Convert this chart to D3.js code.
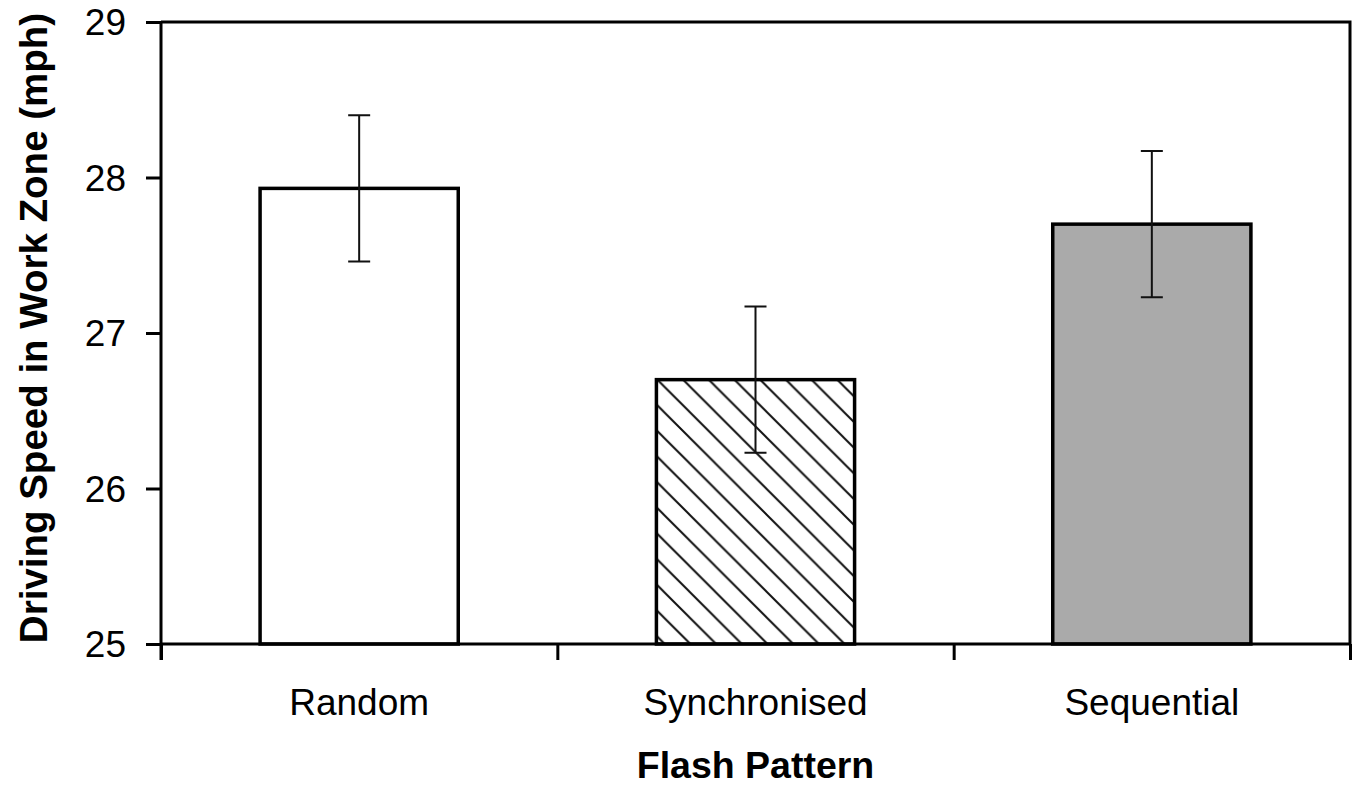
<!DOCTYPE html>
<html>
<head>
<meta charset="utf-8">
<script src="https://cdn.jsdelivr.net/npm/d3@7"></script>
<style>
  body { margin: 0; background: #fff; }
  svg { display: block; font-family: Arial, "Liberation Sans", sans-serif; }
</style>
</head>
<body>
<svg id="chart" width="1360" height="798"></svg>
<script>
// Data
const categories = ['Random', 'Synchronised', 'Sequential'];
const means = [27.93, 26.70, 27.70];
const errors = [0.47, 0.47, 0.47];
const yTicks = [25, 26, 27, 28, 29];

const plotLeft = 161, plotRight = 1350, plotTop = 22, plotBottom = 644;

const svg = d3.select('#chart');

// scales
let x = d3.scaleBand().domain(categories).range([plotLeft, plotRight]).paddingInner(0.5).paddingOuter(0.25);
let xEdge = d3.scaleLinear().domain([0, categories.length]).range([plotLeft, plotRight]);
let y = d3.scaleLinear().domain([25, 29]).range([plotBottom, plotTop]);

// hatch pattern for the middle bar
const s = 25.7;
let defs = svg.append('defs');
let pat = defs.append('pattern')
    .attr('id', 'hatch')
    .attr('patternUnits', 'userSpaceOnUse')
    .attr('x', 20.7)
    .attr('y', 0)
    .attr('width', s)
    .attr('height', s);
pat.append('rect').attr('width', s).attr('height', s).attr('fill', '#fff');
pat.append('path')
    .attr('d', `M0,0 L${s},${s} M${-s/2},${s/2} L${s/2},${s*1.5} M${s/2},${-s/2} L${s*1.5},${s/2}`)
    .attr('stroke', '#111')
    .attr('stroke-width', 2);

const fills = ['#fff', 'url(#hatch)', '#aaaaaa'];

// frame (top + right)
svg.append('path')
    .attr('d', `M${plotLeft},${plotTop} H${plotRight} V${plotBottom}`)
    .attr('fill', 'none')
    .attr('stroke', '#000')
    .attr('stroke-width', 3);

// bars
svg.selectAll('rect.bar')
    .data(categories)
    .join('rect')
    .attr('class', 'bar')
    .attr('x', d => x(d))
    .attr('width', x.bandwidth())
    .attr('y', (d, i) => y(means[i]))
    .attr('height', (d, i) => y(25) - y(means[i]))
    .attr('fill', (d, i) => fills[i])
    .attr('stroke', '#000')
    .attr('stroke-width', 3.5);

// error bars
const cap = 11;
categories.forEach((c, i) => {
    let cx = x(c) + x.bandwidth() / 2;
    let y1 = y(means[i] + errors[i]);
    let y2 = y(means[i] - errors[i]);
    svg.append('path')
        .attr('d', `M${cx},${y1} V${y2} M${cx - cap},${y1} H${cx + cap} M${cx - cap},${y2} H${cx + cap}`)
        .attr('fill', 'none')
        .attr('stroke', '#111')
        .attr('stroke-width', 2);
});

// y axis
let yAxis = svg.append('g')
    .attr('transform', `translate(${plotLeft},0)`)
    .call(d3.axisLeft(y).tickValues(yTicks).tickSize(15).tickPadding(20).tickFormat(d3.format('d')));
yAxis.select('.domain').attr('stroke-width', 3).attr('d', `M0,${plotTop} V${plotBottom + 16}`);
yAxis.selectAll('.tick line').attr('stroke-width', 3);
yAxis.selectAll('.tick text').attr('font-size', 37).attr('fill', '#000').attr('font-family', 'Arial, "Liberation Sans", sans-serif').attr('dy', '0.35em');

// x axis: boundary ticks
let xAxis = svg.append('g')
    .attr('transform', `translate(0,${plotBottom})`)
    .call(d3.axisBottom(xEdge).tickValues(d3.range(categories.length + 1)).tickSize(16).tickFormat(''));
xAxis.select('.domain').attr('stroke-width', 3).attr('d', `M${plotLeft},0 H${plotRight}`);
xAxis.selectAll('.tick line').attr('stroke-width', 3);

// x axis: category labels
let xLabels = svg.append('g')
    .attr('transform', `translate(0,${plotBottom})`)
    .call(d3.axisBottom(x).tickSize(0).tickPadding(0));
xLabels.select('.domain').remove();
xLabels.selectAll('.tick text')
    .attr('font-size', 37)
    .attr('fill', '#000')
    .attr('font-family', 'Arial, "Liberation Sans", sans-serif')
    .attr('y', 71)
    .attr('dy', 0);

// axis titles
svg.append('text')
    .attr('x', (plotLeft + plotRight) / 2)
    .attr('y', 778)
    .attr('text-anchor', 'middle')
    .attr('font-size', 37.5)
    .attr('font-weight', 'bold')
    .text('Flash Pattern');

svg.append('text')
    .attr('transform', `translate(47,328) rotate(-90)`)
    .attr('text-anchor', 'middle')
    .attr('font-size', 38.5)
    .attr('font-weight', 'bold')
    .text('Driving Speed in Work Zone (mph)');
</script>
</body>
</html>
